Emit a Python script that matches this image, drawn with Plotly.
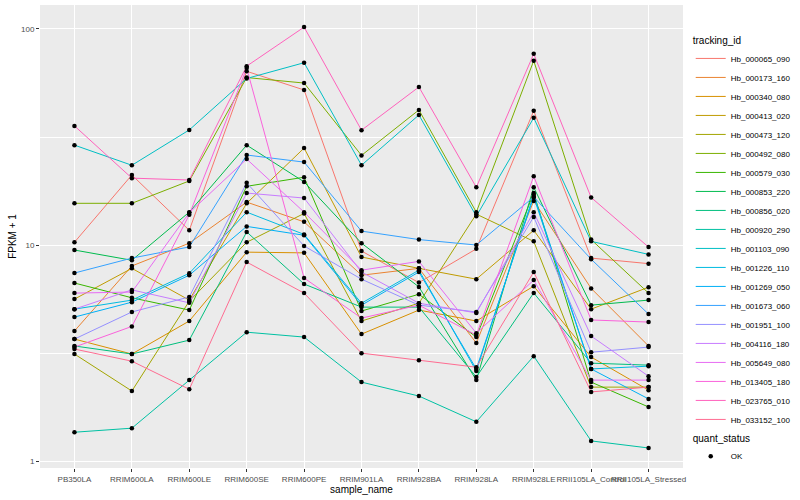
import plotly.graph_objects as go

samples = ["PB350LA", "RRIM600LA", "RRIM600LE", "RRIM600SE", "RRIM600PE", "RRIM901LA",
           "RRIM928BA", "RRIM928LA", "RRIM928LE", "RRII105LA_Control", "RRII105LA_Stressed"]

tracking_ids = ["Hb_000065_090", "Hb_000173_160", "Hb_000340_080", "Hb_000413_020", "Hb_000473_120",
                "Hb_000492_080", "Hb_000579_030", "Hb_000853_220", "Hb_000856_020", "Hb_000920_290",
                "Hb_001103_090", "Hb_001226_110", "Hb_001269_050", "Hb_001673_060", "Hb_001951_100",
                "Hb_004116_180", "Hb_005649_080", "Hb_013405_180", "Hb_023765_010", "Hb_033152_100"]

colors = ["#F8766D", "#EA8331", "#D89000", "#C09B00", "#A3A500", "#7CAE00", "#39B600", "#00BB4E",
          "#00BF7D", "#00C1A3", "#00BFC4", "#00BAE0", "#00B0F6", "#35A2FF", "#9590FF", "#C77CFF",
          "#E76BF3", "#FA62DB", "#FF62BC", "#FF6C91"]

# FPKM + 1 per sample, one list per tracking id
Hb_000065_090 = [10.3, 21.1, 11.7, 63.7, 52.2, 9.38, 6.7, 9.6, 41.8, 8.7, 8.2]
Hb_000173_160 = [4.0, 8.0, 10.2, 15.8, 12.8, 7.25, 7.8, 3.52, 16.0, 6.3, 3.41]
Hb_000340_080 = [3.67, 3.13, 4.45, 9.27, 9.2, 3.87, 5.0, 4.45, 6.45, 3.03, 2.13]
Hb_000413_020 = [5.62, 7.8, 5.56, 15.6, 28.1, 8.8, 7.8, 6.95, 11.7, 5.05, 6.38]
Hb_000473_120 = [3.13, 2.11, 5.5, 10.3, 14.0, 4.45, 5.38, 13.9, 10.4, 2.2, 2.2]
Hb_000492_080 = [15.6, 15.6, 19.8, 59.6, 56.2, 26.0, 42.2, 14.2, 71.3, 10.6, 5.99]
Hb_000579_030 = [6.67, 5.7, 5.0, 18.7, 20.6, 4.95, 5.92, 3.75, 17.4, 2.32, 1.78]
Hb_000853_220 = [9.48, 8.5, 14.2, 29.0, 19.6, 10.2, 6.4, 2.37, 18.5, 5.27, 5.56]
Hb_000856_020 = [3.41, 3.13, 3.63, 11.5, 6.6, 5.16, 5.16, 2.45, 6.0, 2.84, 2.78]
Hb_000920_290 = [1.36, 1.42, 2.37, 3.95, 3.75, 2.32, 2.0, 1.52, 3.06, 1.24, 1.15]
Hb_001103_090 = [29.0, 23.4, 34.1, 59.0, 69.8, 23.4, 40.0, 13.6, 38.8, 10.4, 9.05]
Hb_001226_110 = [5.05, 5.56, 7.4, 14.2, 11.2, 5.38, 7.65, 2.61, 17.1, 2.67, 2.75]
Hb_001269_050 = [4.64, 5.44, 7.25, 12.2, 11.1, 5.27, 7.5, 2.67, 16.7, 2.67, 1.94]
Hb_001673_060 = [7.42, 8.7, 9.8, 26.1, 24.2, 11.6, 10.6, 10.0, 16.7, 8.6, 4.79]
Hb_001951_100 = [3.67, 4.9, 5.75, 19.4, 9.9, 6.95, 5.27, 4.9, 13.5, 3.19, 3.37]
Hb_004116_180 = [5.05, 6.2, 5.4, 17.4, 16.5, 7.5, 5.38, 4.85, 14.2, 3.79, 2.47]
Hb_005649_080 = [5.99, 6.06, 14.1, 25.0, 14.2, 7.65, 8.4, 3.91, 6.88, 2.37, 2.37]
Hb_013405_180 = [3.37, 4.2, 13.8, 65.9, 7.04, 4.59, 5.27, 3.83, 20.8, 4.5, 4.4]
Hb_023765_010 = [35.6, 20.4, 20.0, 67.3, 102.0, 34.0, 53.9, 18.5, 76.7, 16.6, 9.78]
Hb_033152_100 = [3.30, 2.9, 2.15, 8.34, 5.99, 3.16, 2.93, 2.72, 7.5, 2.09, 2.2]

series = [Hb_000065_090, Hb_000173_160, Hb_000340_080, Hb_000413_020, Hb_000473_120,
          Hb_000492_080, Hb_000579_030, Hb_000853_220, Hb_000856_020, Hb_000920_290,
          Hb_001103_090, Hb_001226_110, Hb_001269_050, Hb_001673_060, Hb_001951_100,
          Hb_004116_180, Hb_005649_080, Hb_013405_180, Hb_023765_010, Hb_033152_100]

quant_status = ["OK"]

fig = go.Figure()
for name, vals, col in zip(tracking_ids, series, colors):
    fig.add_trace(go.Scatter(x=samples, y=vals, mode="lines", name=name,
                             line=dict(color=col, width=1), legend="legend"))
# points layer
for i, (name, vals) in enumerate(zip(tracking_ids, series)):
    fig.add_trace(go.Scatter(x=samples, y=vals, mode="markers", name=quant_status[0],
                             marker=dict(color="black", size=4.5, symbol="circle"),
                             showlegend=(i == 0), legend="legend2", hoverinfo="skip"))

font = "Liberation Sans, Arial, sans-serif"
fig.update_layout(
    width=800, height=500,
    margin=dict(l=40, r=117, t=5, b=32, autoexpand=False),
    paper_bgcolor="white", plot_bgcolor="#EBEBEB",
    font=dict(family=font, size=9, color="black"),
    xaxis=dict(type="category", range=[-0.6, 10.6], showgrid=True, gridcolor="white", gridwidth=1.1,
               zeroline=False, ticks="outside", ticklen=3, tickcolor="#333333", tickangle=0,
               tickfont=dict(size=8, color="#4D4D4D", family=font), automargin=False,
               title=dict(text="sample_name", font=dict(size=10, color="black"), standoff=0),
               showline=False),
    yaxis=dict(type="log", range=[-0.032, 2.111], tickvals=[1, 10, 100], ticktext=["1", "10", "100"],
               showgrid=True, gridcolor="white", gridwidth=1.1, zeroline=False, automargin=False,
               ticks="outside", ticklen=3, tickcolor="#333333",
               tickfont=dict(size=8, color="#4D4D4D", family=font),
               minor=dict(tickvals=[10 ** 0.5, 10 ** 1.5], showgrid=True, gridcolor="white",
                          gridwidth=0.55, ticks=""),
               title=dict(text="FPKM + 1", font=dict(size=10, color="black"), standoff=2),
               showline=False),
    legend=dict(x=1.012, y=0.944, xanchor="left", yanchor="top", bgcolor="white",
                title=dict(text="tracking_id", font=dict(size=10)),
                font=dict(size=8), itemwidth=30, tracegroupgap=0),
    legend2=dict(x=1.012, y=0.085, xanchor="left", yanchor="top", bgcolor="white",
                 title=dict(text="quant_status", font=dict(size=10)),
                 font=dict(size=8), itemwidth=30),
    showlegend=True,
)

fig.write_html("out.html", config={"displayModeBar": False},
               post_script="document.body.style.margin='0px';")
